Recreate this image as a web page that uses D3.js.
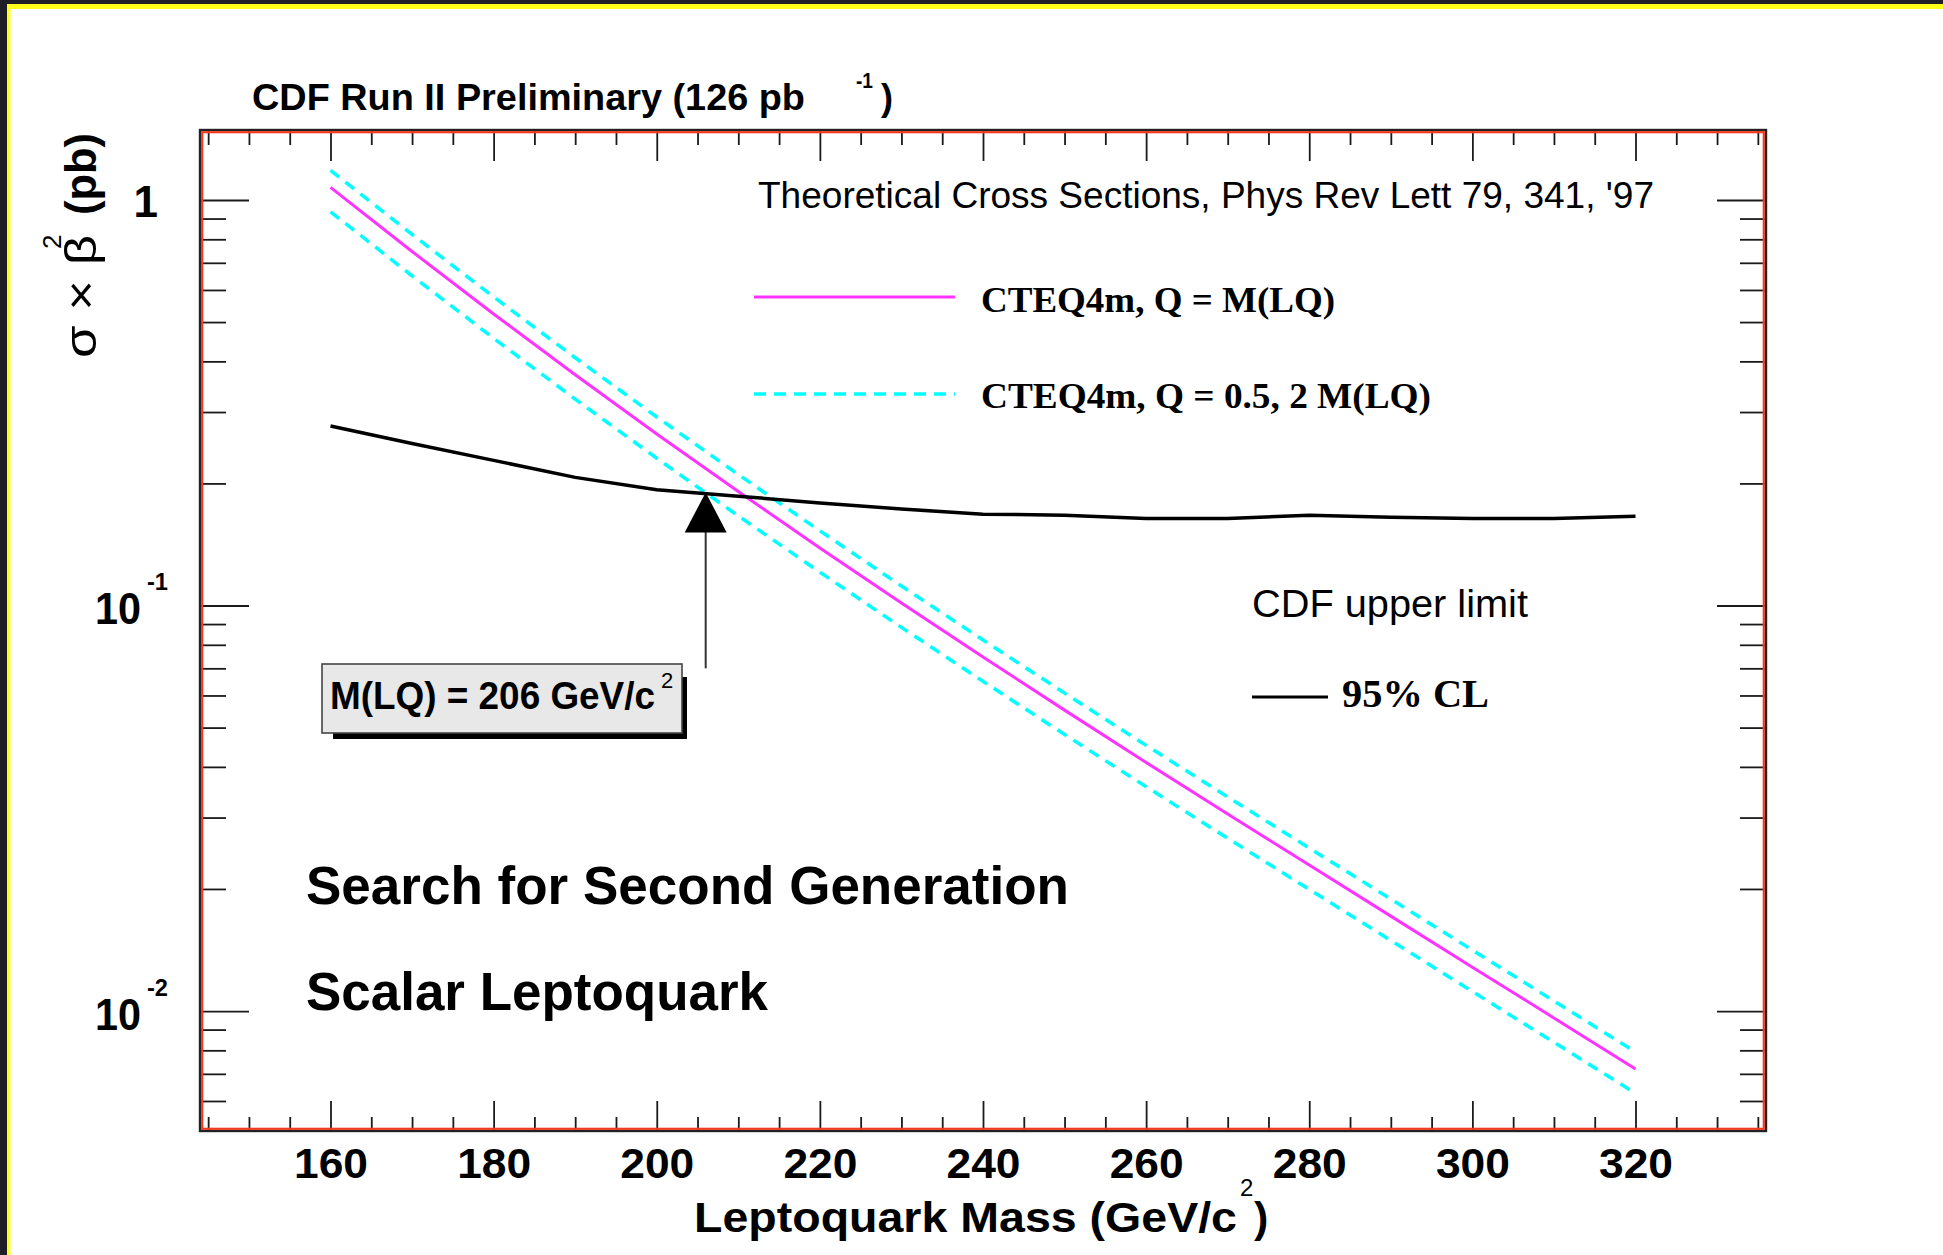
<!DOCTYPE html>
<html>
<head>
<meta charset="utf-8">
<script src="https://cdn.jsdelivr.net/npm/d3@7"></script>
<style>
  html, body { margin: 0; padding: 0; background: #ffffff; }
  svg { display: block; }
  text { fill: #000; }
</style>
</head>
<body>
<svg id="chart" width="1943" height="1255"></svg>
<script>
// Leptoquark mass grid (GeV/c^2)
const massPoints = [160, 170, 180, 190, 200, 210, 220, 230, 240, 250, 260, 270, 280, 290, 300, 310, 320];

// NLO cross section, CTEQ4m, Q = M(LQ)  (pb)
const xsecCentral = [1.074, 0.7464, 0.5236, 0.3707, 0.2649, 0.1910, 0.1387, 0.1014, 0.07464, 0.05521,
                     0.04102, 0.03062, 0.02291, 0.01714, 0.01282, 0.009616, 0.007194];
// Q = 0.5 M(LQ)
const xsecQHalf = [1.183, 0.8222, 0.5768, 0.4083, 0.2917, 0.2104, 0.1528, 0.1117, 0.08222, 0.06081,
                   0.04519, 0.03373, 0.02523, 0.01888, 0.01413, 0.01059, 0.007925];
// Q = 2 M(LQ)
const xsecQDouble = [0.9354, 0.6501, 0.4560, 0.3228, 0.2307, 0.1663, 0.1208, 0.08831, 0.06501, 0.04808,
                     0.03573, 0.02667, 0.01995, 0.01493, 0.01117, 0.008375, 0.006266];

// CDF 95% CL upper limit on sigma x beta^2 (pb)
const limitMass = [160, 170, 180, 190, 200, 210, 220, 230, 240, 250, 260, 270, 280, 290, 300, 310, 320];
const limit95   = [0.277, 0.251, 0.228, 0.207, 0.193, 0.186, 0.179, 0.173, 0.168, 0.167,
                   0.164, 0.164, 0.167, 0.165, 0.164, 0.164, 0.166];

// Excluded mass and the arrow marking it
const massLimit = 206;
const arrowFrom = 0.07;
const arrowTo = 0.19;

// Axis ranges and ticks
const xDomain = [144, 336];
const yDomain = [0.00506, 1.488];
const xMajorTicks = [160, 180, 200, 220, 240, 260, 280, 300, 320];
const xMinorTicks = d3.range(145, 336, 5).filter(v => v % 20 !== 0);
const yMajorTicks = [0.01, 0.1, 1];
const yMajorExp = ["-2", "-1", ""];
const yMinorTicks = [0.006, 0.007, 0.008, 0.009,
                     0.02, 0.03, 0.04, 0.05, 0.06, 0.07, 0.08, 0.09,
                     0.2, 0.3, 0.4, 0.5, 0.6, 0.7, 0.8, 0.9];

const svg = d3.select("#chart");
const W = 1943, H = 1255;
const frame = { left: 200, top: 130, right: 1766, bottom: 1131 };

const x = d3.scaleLinear().domain(xDomain).range([frame.left, frame.right]);
const y = d3.scaleLog().domain(yDomain).range([frame.bottom, frame.top]);

const SANS = "'Liberation Sans', Arial, Helvetica, sans-serif";
const SERIF = "'Liberation Serif', 'Times New Roman', serif";

// page background and window edge
svg.append("rect").attr("width", W).attr("height", H).attr("fill", "#ffffff");
svg.append("rect").attr("x", 0).attr("y", 0).attr("width", W).attr("height", 9).attr("fill", "#1e1e26");
svg.append("rect").attr("x", 0).attr("y", 0).attr("width", 7).attr("height", H).attr("fill", "#1e1e26");
svg.append("rect").attr("x", 7).attr("y", 4).attr("width", W - 7).attr("height", 5).attr("fill", "#ffff1a");
svg.append("rect").attr("x", 7).attr("y", 4).attr("width", 3.5).attr("height", H - 4).attr("fill", "#ffff1a");

// plot clip so curves stay inside the frame
svg.append("clipPath").attr("id", "plotClip")
  .append("rect")
  .attr("x", frame.left).attr("y", frame.top)
  .attr("width", frame.right - frame.left).attr("height", frame.bottom - frame.top);

// ---- axes: ticks drawn inward on all four sides ----
function styleAxis(g) {
  g.select(".domain").remove();
  g.selectAll(".tick line").attr("stroke", "#1a1a1a").attr("stroke-width", 1.8);
  g.selectAll(".tick text").remove();
}

// bottom
svg.append("g").attr("transform", `translate(0,${frame.bottom})`)
  .call(d3.axisBottom(x).tickValues(xMinorTicks).tickSize(-14).tickFormat(""))
  .call(styleAxis);
const xAxisG = svg.append("g").attr("transform", `translate(0,${frame.bottom})`)
  .call(d3.axisBottom(x).tickValues(xMajorTicks).tickSize(-30).tickPadding(16).tickFormat(d3.format("d")));
xAxisG.select(".domain").remove();
xAxisG.selectAll(".tick line").attr("stroke", "#1a1a1a").attr("stroke-width", 1.8);
xAxisG.selectAll(".tick text")
  .attr("font-family", SANS).attr("font-weight", "bold").attr("font-size", 43)
  .attr("fill", "#000").attr("textLength", 74).attr("lengthAdjust", "spacingAndGlyphs")
  .attr("x", -37).attr("text-anchor", "start");

// top
svg.append("g").attr("transform", `translate(0,${frame.top})`)
  .call(d3.axisTop(x).tickValues(xMinorTicks).tickSize(-15).tickFormat(""))
  .call(styleAxis);
svg.append("g").attr("transform", `translate(0,${frame.top})`)
  .call(d3.axisTop(x).tickValues(xMajorTicks).tickSize(-31).tickFormat(""))
  .call(styleAxis);

// left
svg.append("g").attr("transform", `translate(${frame.left},0)`)
  .call(d3.axisLeft(y).tickValues(yMinorTicks).tickSize(-26).tickFormat(""))
  .call(styleAxis);
const yAxisG = svg.append("g").attr("transform", `translate(${frame.left},0)`)
  .call(d3.axisLeft(y).tickValues(yMajorTicks).tickSize(-49).tickFormat(""));
styleAxis(yAxisG);

// right
svg.append("g").attr("transform", `translate(${frame.right},0)`)
  .call(d3.axisRight(y).tickValues(yMinorTicks).tickSize(-26).tickFormat(""))
  .call(styleAxis);
svg.append("g").attr("transform", `translate(${frame.right},0)`)
  .call(d3.axisRight(y).tickValues(yMajorTicks).tickSize(-49).tickFormat(""))
  .call(styleAxis);

// y tick labels: 1, 10^-1, 10^-2
yAxisG.selectAll(".tick").each(function (d, i) {
  const g = d3.select(this);
  const exp = yMajorExp[i];
  if (exp === "") {
    g.append("text").text("1")
      .attr("x", -42).attr("y", 17).attr("text-anchor", "end")
      .attr("font-family", SANS).attr("font-weight", "bold").attr("font-size", 44);
  } else {
    g.append("text").text("10")
      .attr("x", -105).attr("y", 18).attr("text-anchor", "start")
      .attr("textLength", 46).attr("lengthAdjust", "spacingAndGlyphs")
      .attr("font-family", SANS).attr("font-weight", "bold").attr("font-size", 44);
    g.append("text").text(exp)
      .attr("x", -53).attr("y", -16).attr("text-anchor", "start")
      .attr("textLength", 21).attr("lengthAdjust", "spacingAndGlyphs")
      .attr("font-family", SANS).attr("font-weight", "bold").attr("font-size", 24);
  }
});

// ---- curves ----
const plot = svg.append("g").attr("clip-path", "url(#plotClip)");
const line = d3.line().x(d => x(d[0])).y(d => y(d[1]));

const zip = (a, b) => a.map((v, i) => [v, b[i]]);

plot.append("path").datum(zip(massPoints, xsecQHalf))
  .attr("d", line).attr("fill", "none")
  .attr("stroke", "#00ffff").attr("stroke-width", 3.5).attr("stroke-dasharray", "11,8");
plot.append("path").datum(zip(massPoints, xsecQDouble))
  .attr("d", line).attr("fill", "none")
  .attr("stroke", "#00ffff").attr("stroke-width", 3.5).attr("stroke-dasharray", "11,8");
plot.append("path").datum(zip(massPoints, xsecCentral))
  .attr("d", line).attr("fill", "none")
  .attr("stroke", "#ff33ff").attr("stroke-width", 3);
plot.append("path").datum(zip(limitMass, limit95))
  .attr("d", line).attr("fill", "none")
  .attr("stroke", "#000000").attr("stroke-width", 3.5);

// ---- frame: black outline with red inner edge ----
svg.append("rect")
  .attr("x", frame.left).attr("y", frame.top)
  .attr("width", frame.right - frame.left).attr("height", frame.bottom - frame.top)
  .attr("fill", "none").attr("stroke", "#222").attr("stroke-width", 2.4);
svg.append("rect")
  .attr("x", frame.left + 2.2).attr("y", frame.top + 2.2)
  .attr("width", frame.right - frame.left - 4.4).attr("height", frame.bottom - frame.top - 4.4)
  .attr("fill", "none").attr("stroke", "#f23a22").attr("stroke-width", 2.2);

// ---- exclusion arrow ----
const ax = x(massLimit);
const tipY = y(arrowTo);
svg.append("line")
  .attr("x1", ax).attr("x2", ax).attr("y1", y(arrowFrom)).attr("y2", tipY + 38)
  .attr("stroke", "#333").attr("stroke-width", 2);
svg.append("path")
  .attr("d", `M${ax},${tipY} L${ax - 21},${tipY + 40} L${ax + 21},${tipY + 40} Z`)
  .attr("fill", "#000");

// ---- mass limit box ----
svg.append("rect").attr("x", 333).attr("y", 677).attr("width", 354).attr("height", 62).attr("fill", "#000");
svg.append("rect").attr("x", 322).attr("y", 664).attr("width", 360).attr("height", 69)
  .attr("fill", "#e8e8e8").attr("stroke", "#444").attr("stroke-width", 1.6);
svg.append("text").text(`M(LQ) = ${massLimit} GeV/c`)
  .attr("x", 330).attr("y", 709).attr("textLength", 325).attr("lengthAdjust", "spacingAndGlyphs")
  .attr("font-family", SANS).attr("font-weight", "bold").attr("font-size", 38);
svg.append("text").text("2")
  .attr("x", 661).attr("y", 688)
  .attr("font-family", SANS).attr("font-size", 22);

// ---- title ----
svg.append("text").text("CDF Run II Preliminary (126 pb")
  .attr("x", 252).attr("y", 110).attr("textLength", 553).attr("lengthAdjust", "spacingAndGlyphs")
  .attr("font-family", SANS).attr("font-weight", "bold").attr("font-size", 36);
svg.append("text").text("-1")
  .attr("x", 856).attr("y", 88).attr("textLength", 17).attr("lengthAdjust", "spacingAndGlyphs")
  .attr("font-family", SANS).attr("font-weight", "bold").attr("font-size", 22);
svg.append("text").text(")")
  .attr("x", 881).attr("y", 110)
  .attr("font-family", SANS).attr("font-weight", "bold").attr("font-size", 36);

// ---- axis titles ----
svg.append("text").text("Leptoquark Mass (GeV/c")
  .attr("x", 694).attr("y", 1232).attr("textLength", 543).attr("lengthAdjust", "spacingAndGlyphs")
  .attr("font-family", SANS).attr("font-weight", "bold").attr("font-size", 43);
svg.append("text").text("2")
  .attr("x", 1240).attr("y", 1196)
  .attr("font-family", SANS).attr("font-size", 24);
svg.append("text").text(")")
  .attr("x", 1254).attr("y", 1232)
  .attr("font-family", SANS).attr("font-weight", "bold").attr("font-size", 43);

const yTitle = svg.append("g").attr("transform", "translate(96,0) rotate(-90)");
yTitle.append("text").text("σ × β")
  .attr("x", -358).attr("y", 0).attr("textLength", 123).attr("lengthAdjust", "spacingAndGlyphs")
  .attr("font-family", SANS).attr("font-size", 44);
yTitle.append("text").text("2")
  .attr("x", -249).attr("y", -35)
  .attr("font-family", SANS).attr("font-size", 26);
yTitle.append("text").text("(pb)")
  .attr("x", -215).attr("y", 0).attr("textLength", 82).attr("lengthAdjust", "spacingAndGlyphs")
  .attr("font-family", SANS).attr("font-weight", "bold").attr("font-size", 44);

// ---- legend ----
svg.append("text").text("Theoretical Cross Sections, Phys Rev Lett 79, 341, '97")
  .attr("x", 758).attr("y", 208).attr("textLength", 896).attr("lengthAdjust", "spacingAndGlyphs")
  .attr("font-family", SANS).attr("font-size", 37);

svg.append("line").attr("x1", 754).attr("x2", 955).attr("y1", 297).attr("y2", 297)
  .attr("stroke", "#ff33ff").attr("stroke-width", 3);
svg.append("text").text("CTEQ4m, Q = M(LQ)")
  .attr("x", 981).attr("y", 312).attr("textLength", 354).attr("lengthAdjust", "spacingAndGlyphs")
  .attr("font-family", SERIF).attr("font-weight", "bold").attr("font-size", 36);

svg.append("line").attr("x1", 754).attr("x2", 955).attr("y1", 394).attr("y2", 394)
  .attr("stroke", "#00ffff").attr("stroke-width", 3.5).attr("stroke-dasharray", "12,8");
svg.append("text").text("CTEQ4m, Q = 0.5, 2 M(LQ)")
  .attr("x", 981).attr("y", 408).attr("textLength", 450).attr("lengthAdjust", "spacingAndGlyphs")
  .attr("font-family", SERIF).attr("font-weight", "bold").attr("font-size", 36);

svg.append("text").text("CDF upper limit")
  .attr("x", 1252).attr("y", 617).attr("textLength", 276).attr("lengthAdjust", "spacingAndGlyphs")
  .attr("font-family", SANS).attr("font-size", 38);
svg.append("line").attr("x1", 1252).attr("x2", 1328).attr("y1", 697).attr("y2", 697)
  .attr("stroke", "#000").attr("stroke-width", 3);
svg.append("text").text("95% CL")
  .attr("x", 1342).attr("y", 707).attr("textLength", 147).attr("lengthAdjust", "spacingAndGlyphs")
  .attr("font-family", SERIF).attr("font-weight", "bold").attr("font-size", 39);

// ---- search label ----
svg.append("text").text("Search for Second Generation")
  .attr("x", 306).attr("y", 904).attr("textLength", 763).attr("lengthAdjust", "spacingAndGlyphs")
  .attr("font-family", SANS).attr("font-weight", "bold").attr("font-size", 53);
svg.append("text").text("Scalar Leptoquark")
  .attr("x", 306).attr("y", 1010).attr("textLength", 462).attr("lengthAdjust", "spacingAndGlyphs")
  .attr("font-family", SANS).attr("font-weight", "bold").attr("font-size", 53);
</script>
</body>
</html>
